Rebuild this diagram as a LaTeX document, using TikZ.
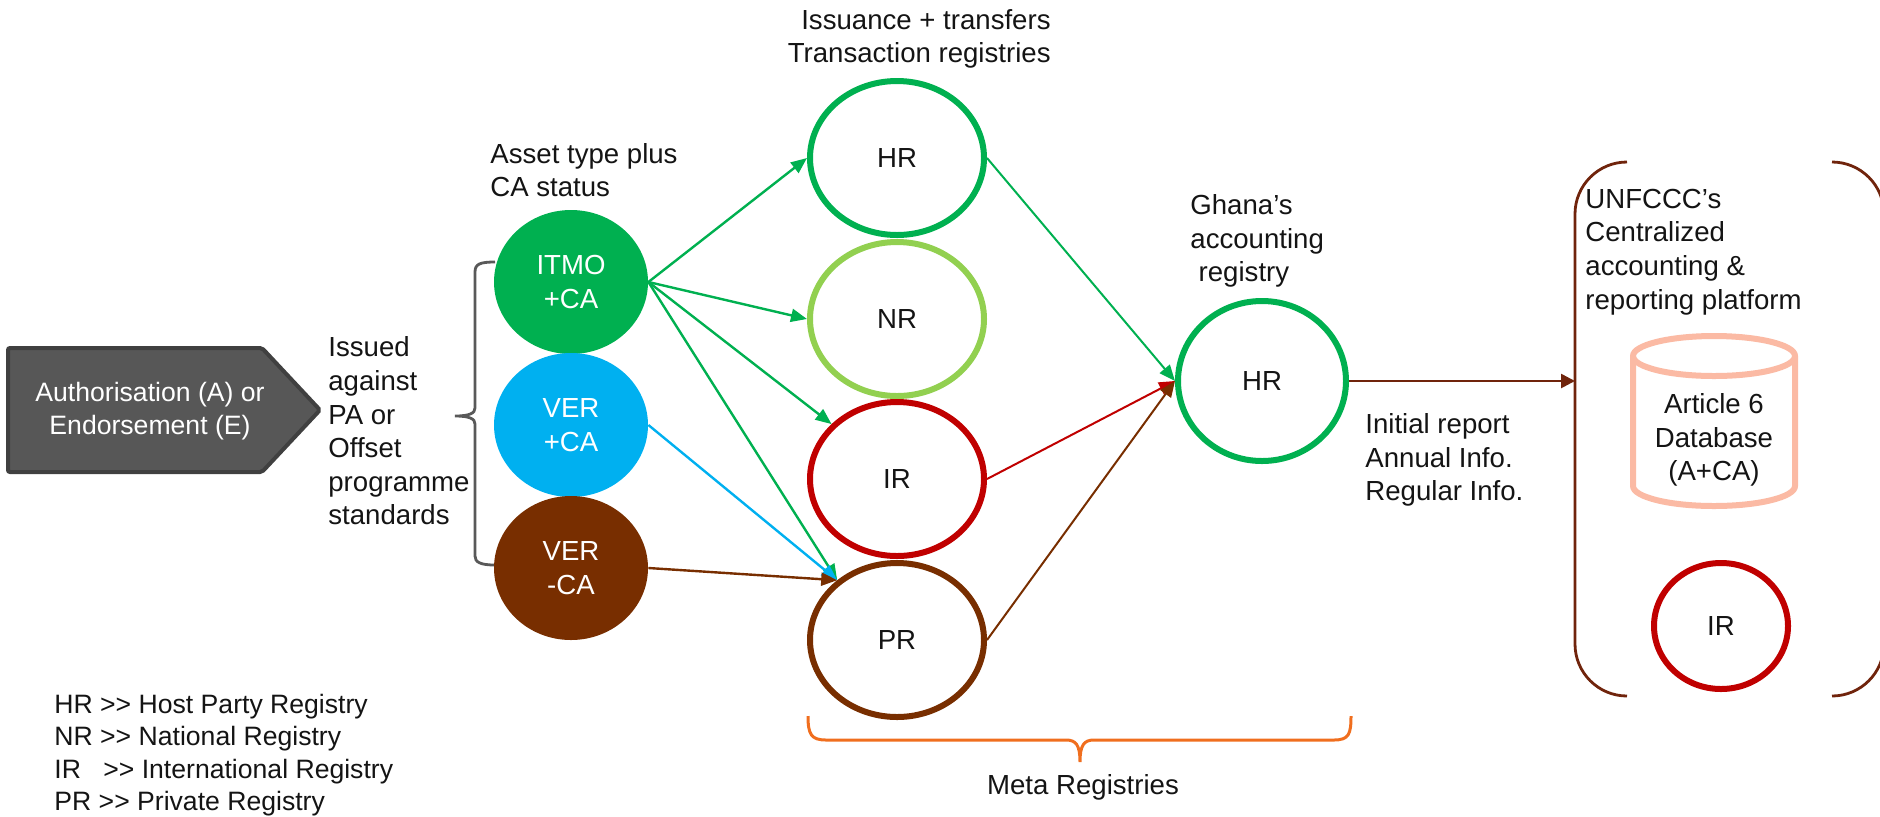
\documentclass[tikz,border=0pt]{standalone}
\usepackage{fontspec}
\setmainfont{Liberation Sans}
\usetikzlibrary{arrows.meta,shapes.geometric}
\definecolor{cgreen}{RGB}{0,176,80}
\definecolor{clgreen}{RGB}{146,208,80}
\definecolor{cred}{RGB}{192,0,0}
\definecolor{cblue}{RGB}{0,176,240}
\definecolor{cbrown}{RGB}{120,46,0}
\definecolor{cmaroon}{RGB}{112,36,12}
\definecolor{cgray}{RGB}{89,89,89}
\definecolor{cdark}{RGB}{87,87,87}
\definecolor{cdarkb}{RGB}{64,64,64}
\definecolor{corange}{RGB}{240,110,30}
\definecolor{csalmon}{RGB}{251,186,164}
\definecolor{ctext}{RGB}{20,20,20}
\begin{document}
\begin{tikzpicture}[x=0.5pt,y=-0.5pt,
  font=\fontsize{13.8}{16.8}\selectfont, text=ctext,
  smallfont/.style={font=\fontsize{13.3}{16.2}\selectfont},
  txt/.style={inner sep=0pt, align=left, anchor=west},
  fillc/.style={ellipse, minimum width=77pt, minimum height=72pt, inner sep=0pt, text=white, align=center},
  regc/.style={ellipse, draw, line width=3pt, minimum width=87pt, minimum height=77pt, inner sep=0pt},
  tipA/.style={-{Triangle[length=8pt,width=6.5pt]}},
  conn/.style={tipA, line width=1.2pt},
  thinconn/.style={tipA, line width=1pt}
]
\useasboundingbox (0,0) rectangle (1880,816);

% authorisation pentagon
\path[draw=cdarkb, fill=cdark, line width=2pt, rounded corners=1pt]
  (8,348) -- (262,348) -- (320,410) -- (262,472) -- (8,472) -- cycle;
\node[smallfont, inner sep=0pt, align=center, text=white] (auth) at (150,411) {Authorisation (A) or\\Endorsement (E)};

% issued text and bracket
\node[txt] (issued) at (328,431) {Issued\\against\\PA or\\Offset\\programme\\standards};
\draw[cgray, line width=1.4pt] (495,262) .. controls (480,262) and (475,264) .. (475,272) -- (475,408)
  .. controls (475,413) and (470,416) .. (455,416) .. controls (470,416) and (475,419) .. (475,424)
  -- (475,556) .. controls (475,562) and (480,565) .. (495,565);

% asset circles
\node[txt] (asset) at (490,170) {Asset type plus\\CA status};
\node[fillc, fill=cgreen] (itmo) at (571,282) {ITMO\\+CA};
\node[fillc, fill=cblue] (verp) at (571,425) {VER\\+CA};
\node[fillc, fill=cbrown] (verm) at (571,568) {VER\\-CA};

% registries
\node[inner sep=0pt, align=right, anchor=east] (ttl) at (1051,39) {Issuance + transfers\\Transaction registries};
\node[regc, draw=cgreen] (hr) at (897,158) {HR};
\node[regc, draw=clgreen] (nr) at (897,319) {NR};
\node[regc, draw=cred] (ir) at (897,479) {IR};
\node[regc, draw=cbrown] (pr) at (897,640) {PR};
\coordinate (prin) at (pr.135);

% Ghana registry
\node[txt] (ghtxt) at (1190,241) {Ghana’s\\accounting\\\hspace{0.3em}registry};
\node[regc, draw=cgreen, minimum width=84pt, minimum height=80pt] (gh) at (1262,381) {HR};
\node[txt] (rep) at (1365,460) {Initial report\\Annual Info.\\Regular Info.};

% connectors
\draw[conn, cgreen] (itmo.east) -- (hr.west);
\draw[conn, cgreen] (itmo.east) -- (nr.west);
\draw[conn, cgreen] (itmo.east) -- (ir.140);
\draw[conn, cgreen] (itmo.east) -- (prin);
\draw[conn, cblue] (verp.east) -- (prin);
\draw[conn, cbrown] (verm.east) -- (prin);
\draw[thinconn, cgreen] (hr.east) -- (gh.west);
\draw[thinconn, cred] (ir.east) -- (gh.west);
\draw[thinconn, cbrown] (pr.east) -- (gh.west);

% meta registries bracket
\draw[corange, line width=1.5pt] (808,716) .. controls (808,734) and (811,740) .. (826,740) -- (1066,740)
  .. controls (1076,740) and (1080,745) .. (1080,762) .. controls (1080,745) and (1084,740) .. (1094,740)
  -- (1334,740) .. controls (1349,740) and (1351,734) .. (1351,716);
\node[inner sep=0pt] (meta) at (1083,787) {Meta Registries};

% UNFCCC platform
\draw[cmaroon, line width=1.4pt] (1627,162) arc[start angle=-90, end angle=-180, radius=52]
  -- (1575,644) arc[start angle=180, end angle=90, radius=52];
\draw[cmaroon, line width=1.4pt] (1832,162) arc[start angle=-90, end angle=0, radius=52]
  -- (1884,644) arc[start angle=0, end angle=90, radius=52];
\coordinate (boxin) at (1575,381);
\draw[cmaroon, line width=1.3pt, -{Triangle[length=7pt,width=7pt]}] (gh.east) -- (boxin);
\node[txt] (unf) at (1585,252) {UNFCCC’s\\Centralized\\accounting \&\\reporting platform};

% database cylinder
\draw[csalmon, line width=3pt, fill=white] (1633,356) -- (1633,486)
  arc[start angle=180, end angle=0, x radius=81, y radius=20] -- (1795,356)
  arc[start angle=0, end angle=-180, x radius=81, y radius=20] -- cycle;
\draw[csalmon, line width=3pt] (1633,356) arc[start angle=180, end angle=0, x radius=81, y radius=20];
\node[inner sep=0pt, align=center] (db) at (1714,440) {Article 6\\Database\\(A+CA)};

\node[regc, draw=cred, minimum width=67pt, minimum height=63pt] (bir) at (1721,626) {IR};

% legend
\node[txt, smallfont] (legend) at (54,755) {HR {>}{>} Host Party Registry\\NR {>}{>} National Registry\\IR\hspace{0.84em}{>}{>} International Registry\\PR {>}{>} Private Registry};
\end{tikzpicture}
\end{document}
